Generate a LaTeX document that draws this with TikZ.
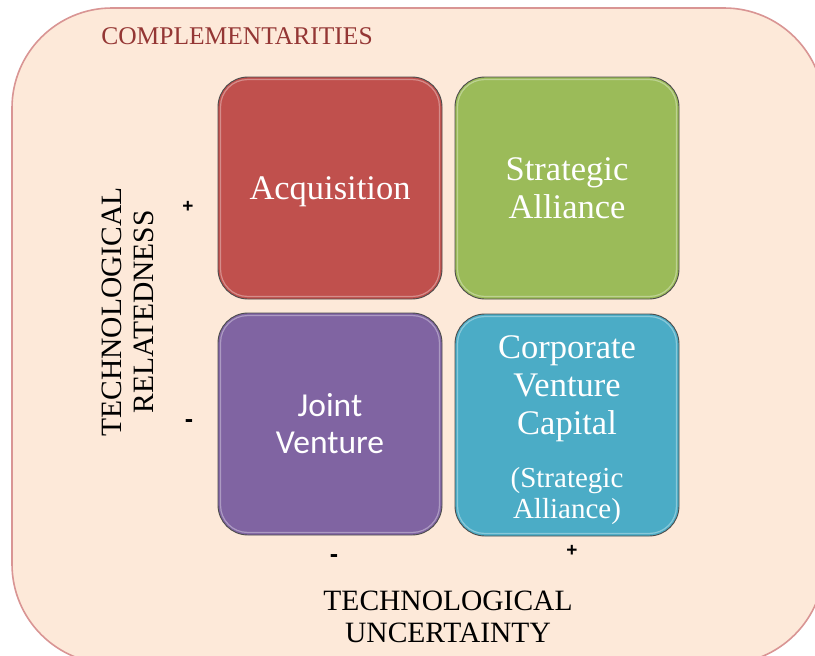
\documentclass[tikz,border=0pt]{standalone}
\usepackage{fontspec}
\setmainfont{Liberation Serif}
\newfontfamily\calib{Carlito}
\newfontfamily\sansb{Liberation Sans}
\definecolor{acqc}{HTML}{C0504D}
\definecolor{sac}{HTML}{9BBB59}
\definecolor{jvc}{HTML}{8064A2}
\definecolor{cvcc}{HTML}{4BACC6}
\definecolor{bgc}{HTML}{FDE9D9}
\definecolor{framec}{HTML}{D99594}
\definecolor{titlec}{HTML}{943634}
\tikzset{
  cell/.style={draw=black!70, line width=0.9pt, rounded corners=30pt,
    minimum width=224pt, minimum height=222pt, inner sep=0pt, text=white, align=center},
  serifbig/.style={font=\fontsize{34.5}{38}\selectfont},
  axislbl/.style={align=center, font=\fontsize{29.5}{32}\selectfont, text=black},
  signlbl/.style={font=\sansb\bfseries\fontsize{19}{20}\selectfont, text=black, inner sep=0pt},
  minuslbl/.style={font=\sansb\bfseries\fontsize{25}{26}\selectfont, text=black, inner sep=0pt},
  gloss/.style={draw=white, opacity=0.35, line width=1.2pt, rounded corners=27pt}
}
\begin{document}
\begin{tikzpicture}[x=1pt,y=-1pt]
\useasboundingbox (0,0) rectangle (815,656);
\fill[white] (0,0) rectangle (815,656);
\draw[fill=bgc, draw=framec, line width=1.6pt, rounded corners=100pt] (12,8) rectangle (824,664);
\node[text=titlec, font=\fontsize{25.5}{28}\selectfont] (title) at (237,36) {COMPLEMENTARITIES};

\node[cell, fill=acqc] (acq) at (330,188) {};
\node[cell, fill=sac, serifbig] (sa) at (567,188) {Strategic\\Alliance};
\node[cell, fill=jvc, font=\calib\fontsize{33.5}{37}\selectfont] (jv) at (330,424) {Joint\\Venture};
\node[cell, fill=cvcc] (cvc) at (567,425) {};
\foreach \b in {acq,sa,jv,cvc}{
  \draw[gloss] ([shift={(3pt,-3pt)}]\b.north west) rectangle ([shift={(-3pt,3pt)}]\b.south east);
}
\node[text=white, serifbig] (acqt) at (330,192) {Acquisition};
\node[text=white, align=center, serifbig] (cvct) at (567,389) {Corporate\\Venture\\Capital};
\node[text=white, align=center, font=\fontsize{29}{31}\selectfont] (cvcs) at (567,496) {(Strategic\\Alliance)};

\node[axislbl, rotate=90] (rel) at (128,312) {TECHNOLOGICAL\\RELATEDNESS};
\node[axislbl] (unc) at (448,617) {TECHNOLOGICAL\\UNCERTAINTY};

\node[signlbl] (rp) at (188,207) {+};
\node[minuslbl] (rm) at (189,424) {-};
\node[minuslbl] (um) at (334,559) {-};
\node[signlbl] (up) at (572,551) {+};
\end{tikzpicture}
\end{document}
